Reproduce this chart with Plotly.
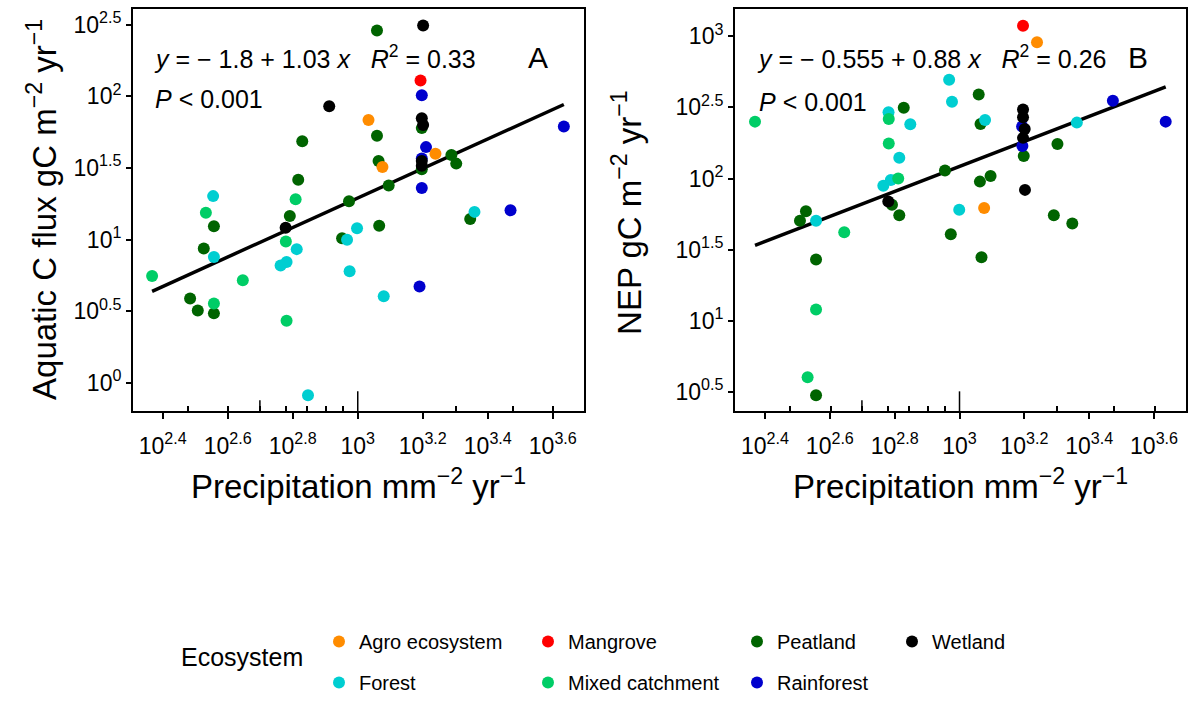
import numpy as np
import plotly.graph_objects as go

# ---------------- data ----------------
ecosystems = ["Agro ecosystem", "Forest", "Mangrove", "Mixed catchment",
              "Peatland", "Rainforest", "Wetland"]
eco_colors = ["#FF8C00", "#00CED1", "#FF0000", "#00CD66",
              "#006400", "#0000CD", "#000000"]

# Panel A: precipitation (mm) vs aquatic C flux (gC m-2 yr-1)
a_agro_p = [1079, 1734, 1191]
a_agro_y = [68.4, 39.7, 32.1]
a_forest_p = [359, 995, 2286, 927, 649, 361, 604, 579, 944, 1202, 703]
a_forest_y = [20.1, 12.0, 15.6, 9.95, 8.57, 7.55, 6.98, 6.59, 6.0, 4.01, 0.818]
a_mangrove_p = [1560]
a_mangrove_y = [129]
a_mixed_p = [644, 341, 601, 233, 443, 361, 604]
a_mixed_y = [19.1, 15.4, 9.68, 5.56, 5.20, 3.57, 2.71]
a_peat_p = [1146, 1574, 1146, 675, 1941, 2009, 1574, 1159, 656, 1245,
            940, 618, 361, 1164, 2218, 895, 336, 305, 322, 361]
a_peat_y = [288, 60.0, 53.1, 48.5, 38.9, 33.9, 31.0, 35.3, 26.2, 23.8,
            18.5, 14.6, 12.4, 12.5, 13.9, 10.2, 8.67, 3.88, 3.19, 3.05]
a_rain_p = [1574, 1622, 1574, 1574, 4305, 2951, 1549]
a_rain_y = [101.6, 44.2, 36.8, 22.9, 61.5, 16.0, 4.70]
a_wet_p = [1589, 817, 1574, 1589, 1574, 1574, 600]
a_wet_y = [312, 85.3, 70.3, 63.1, 35.3, 32.7, 12.1]

# Panel B: precipitation (mm) vs NEP (gC m-2 yr-1)
b_agro_p = [1734, 1191]
b_agro_y = [908, 62.1]
b_forest_p = [929, 948, 604, 705, 1199, 2301, 652, 614, 582, 998, 361]
b_forest_y = [495, 346, 292, 241, 258, 247, 140, 97.5, 89.1, 60.4, 50.5]
b_mangrove_p = [1570]
b_mangrove_y = [1186]
b_mixed_p = [605, 234, 605, 647, 441, 361, 340]
b_mixed_y = [262, 251, 176, 100, 41.9, 12.0, 4.02]
b_peat_p = [1146, 673, 1161, 1578, 2005, 902, 1156, 1247, 619, 652,
            336, 322, 940, 1954, 2228, 1169, 361, 361]
b_peat_y = [390, 314, 242, 144, 175, 114, 95.1, 104, 65.5, 55.2,
            58.9, 50.5, 40.6, 55.2, 48.3, 28.0, 27.0, 3.0]
b_rain_p = [1560, 1563, 2972, 4325]
b_rain_y = [232, 169, 352, 251]
b_wet_p = [1570, 1570, 1589, 1570, 1592, 603]
b_wet_y = [305, 269, 223, 193, 83.2, 69.0]

# regression coefficients (log10 scale)
a_intercept, a_slope = -1.8, 1.03
b_intercept, b_slope = -0.555, 0.88

x_tick_exp = ["2.4", "2.6", "2.8", "3", "3.2", "3.4", "3.6"]
a_y_tick_exp = ["0", "0.5", "1", "1.5", "2", "2.5"]
b_y_tick_exp = ["0.5", "1", "1.5", "2", "2.5", "3"]
x_minor_vals = [300, 400, 500, 600, 700, 800, 900, 2000, 3000, 4000]

# ---------------- figure ----------------
W, H = 1192, 702
FONT = "Liberation Sans, Arial, sans-serif"

panel_a = {
    "Agro ecosystem": (a_agro_p, a_agro_y), "Forest": (a_forest_p, a_forest_y),
    "Mangrove": (a_mangrove_p, a_mangrove_y), "Mixed catchment": (a_mixed_p, a_mixed_y),
    "Peatland": (a_peat_p, a_peat_y), "Rainforest": (a_rain_p, a_rain_y),
    "Wetland": (a_wet_p, a_wet_y)}
panel_b = {
    "Agro ecosystem": (b_agro_p, b_agro_y), "Forest": (b_forest_p, b_forest_y),
    "Mangrove": (b_mangrove_p, b_mangrove_y), "Mixed catchment": (b_mixed_p, b_mixed_y),
    "Peatland": (b_peat_p, b_peat_y), "Rainforest": (b_rain_p, b_rain_y),
    "Wetland": (b_wet_p, b_wet_y)}

color_of = dict(zip(ecosystems, eco_colors))
# legend columns (ggplot fills column-wise, 2 rows)
legend_of = {"Agro ecosystem": "legend", "Forest": "legend",
             "Mangrove": "legend2", "Mixed catchment": "legend2",
             "Peatland": "legend3", "Rainforest": "legend3",
             "Wetland": "legend4"}
rank_of = {e: i for i, e in enumerate(ecosystems)}
draw_order = ["Peatland", "Forest", "Mixed catchment", "Rainforest",
              "Agro ecosystem", "Mangrove", "Wetland"]

fig = go.Figure()


def add_fit(panel, xa, ya, a, b):
    allx = np.concatenate([np.asarray(v[0], float) for v in panel.values()])
    lx = np.log10([allx.min(), allx.max()])
    fig.add_trace(go.Scatter(x=10 ** lx, y=10 ** (a + b * lx), mode="lines",
                             line=dict(color="black", width=3.5),
                             xaxis=xa, yaxis=ya, showlegend=False,
                             hoverinfo="skip"))


add_fit(panel_a, "x", "y", a_intercept, a_slope)
add_fit(panel_b, "x2", "y2", b_intercept, b_slope)

for eco in draw_order:
    for panel, xa, ya, show in [(panel_a, "x", "y", True), (panel_b, "x2", "y2", False)]:
        px_, py_ = panel[eco]
        fig.add_trace(go.Scatter(
            x=px_, y=py_, mode="markers", name=eco,
            marker=dict(color=color_of[eco], size=12, line=dict(width=0)),
            xaxis=xa, yaxis=ya, showlegend=show, legendgroup=eco,
            legend=legend_of[eco], legendrank=rank_of[eco]))

ydom = [1 - 417 / H, 1 - 9 / H]
tickfont = dict(family=FONT, size=23, color="black")


def xaxis_cfg(dom, rng):
    return dict(type="log", domain=dom, range=rng, showgrid=False, zeroline=False,
                tickvals=[10 ** float(e) for e in x_tick_exp],
                ticktext=["10<sup>%s</sup>" % e for e in x_tick_exp],
                ticks="outside", ticklen=6, tickwidth=1.5, tickcolor="black",
                ticklabelstandoff=7,
                showline=True, mirror=True, linecolor="black", linewidth=2,
                tickfont=tickfont, anchor=None,
                minor=dict(tickvals=x_minor_vals, ticks="inside", ticklen=5,
                           tickwidth=1.5, tickcolor="black", showgrid=False))


def yaxis_cfg(anchor, exps, rng):
    return dict(type="log", domain=ydom, range=rng, showgrid=False, zeroline=False,
                tickvals=[10 ** float(e) for e in exps],
                ticktext=["10<sup>%s</sup>" % e for e in exps],
                ticks="outside", ticklen=5, tickwidth=1.5, tickcolor="black",
                showline=True, mirror=True, linecolor="black", linewidth=2,
                tickfont=tickfont, anchor=anchor)


xa = xaxis_cfg([133 / W, 584 / W], [2.3086, 3.696]); xa["anchor"] = "y"
xb = xaxis_cfg([735 / W, 1186 / W], [2.3075, 3.6986]); xb["anchor"] = "y2"

legends = {}
col_x = [339, 548, 757, 912]
for i, key in enumerate(["legend", "legend2", "legend3", "legend4"]):
    legends[key] = dict(x=(col_x[i] - 20) / W, xanchor="left", y=1 - 631 / H,
                        yanchor="top", orientation="v", traceorder="grouped",
                        tracegroupgap=12, bgcolor="rgba(0,0,0,0)", borderwidth=0,
                        font=dict(family=FONT, size=20, color="black"),
                        itemclick=False, itemdoubleclick=False)

ann_font = dict(family=FONT, size=25, color="black")
annotations = [
    dict(text="Aquatic C flux gC m<sup>\u22122</sup> yr<sup>\u22121</sup>",
         x=42 / W, y=1 - 213 / H, textangle=-90, font=dict(family=FONT, size=33, color="black")),
    dict(text="NEP gC m<sup>\u22122</sup> yr<sup>\u22121</sup>",
         x=627 / W, y=1 - 215 / H, textangle=-90, font=dict(family=FONT, size=33, color="black")),
    dict(text="Precipitation mm<sup>\u22122</sup> yr<sup>\u22121</sup>",
         x=358.5 / W, y=1 - 491 / H, font=dict(family=FONT, size=33, color="black")),
    dict(text="Precipitation mm<sup>\u22122</sup> yr<sup>\u22121</sup>",
         x=960.5 / W, y=1 - 491 / H, font=dict(family=FONT, size=33, color="black")),
    dict(text="<i>y</i> = \u2212 1.8 + 1.03 <i>x</i>   <i>R</i><sup>2</sup> = 0.33",
         x=152 / W, y=1 - 58 / H, xanchor="left", font=ann_font),
    dict(text="<i>P</i> < 0.001", x=153 / W, y=1 - 100 / H, xanchor="left", font=ann_font),
    dict(text="A", x=538 / W, y=1 - 58 / H, font=dict(family=FONT, size=30, color="black")),
    dict(text="<i>y</i> = \u2212 0.555 + 0.88 <i>x</i>   <i>R</i><sup>2</sup> = 0.26",
         x=755 / W, y=1 - 58 / H, xanchor="left", font=ann_font),
    dict(text="<i>P</i> < 0.001", x=757 / W, y=1 - 103 / H, xanchor="left", font=ann_font),
    dict(text="B", x=1138 / W, y=1 - 58 / H, font=dict(family=FONT, size=30, color="black")),
    dict(text="Ecosystem", x=179 / W, y=1 - 667 / H, xanchor="left",
         font=dict(family=FONT, size=25, color="black")),
]
for a in annotations:
    a.update(xref="paper", yref="paper", showarrow=False)
    a.setdefault("xanchor", "center")
    a.setdefault("yanchor", "middle")

# mid/long log ticks at 500 and 1000 (annotation_logticks style)
shapes = []
for xr, yr in [("x", "y domain"), ("x2", "y2 domain")]:
    for v, ln in [(500, 11), (1000, 20)]:
        shapes.append(dict(type="line", xref=xr, yref=yr, x0=v, x1=v, y0=0,
                           y1=ln / 408, line=dict(color="black", width=1.5)))

fig.update_layout(
    width=W, height=H, margin=dict(l=0, r=0, t=0, b=0),
    paper_bgcolor="white", plot_bgcolor="white",
    xaxis=xa, xaxis2=xb,
    yaxis=yaxis_cfg("x", a_y_tick_exp, [-0.198, 2.611]),
    yaxis2=yaxis_cfg("x2", b_y_tick_exp, [0.366, 3.192]),
    annotations=annotations, shapes=shapes, showlegend=True,
    hovermode="closest", **legends)

fig.write_html("out.html")
